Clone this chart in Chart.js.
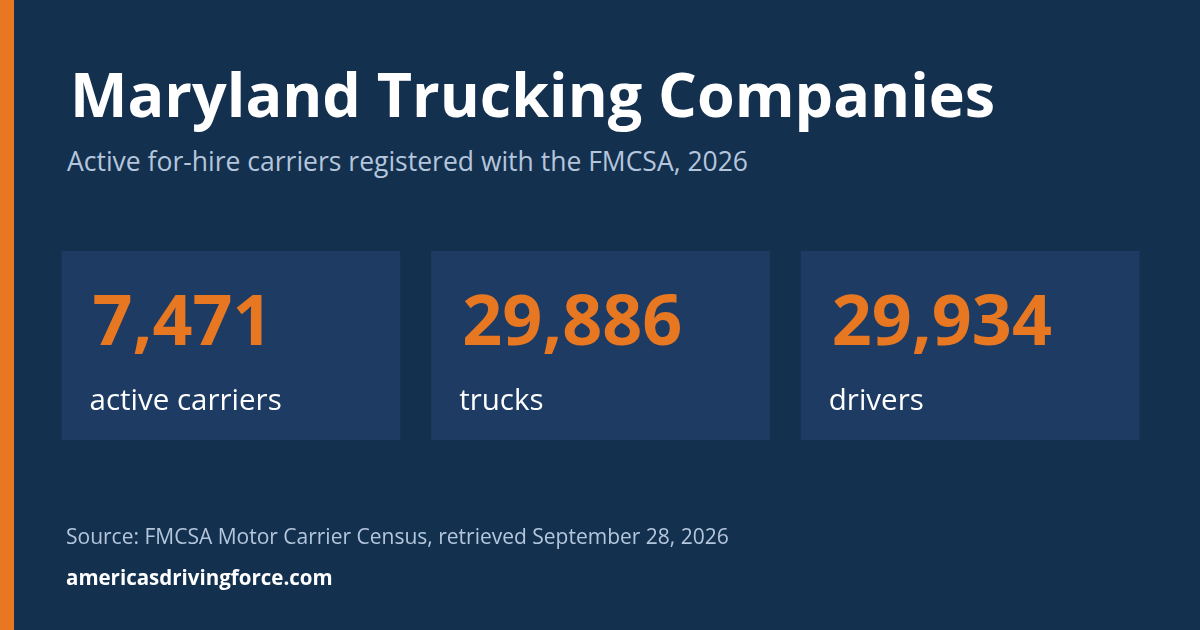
<!DOCTYPE html>
<html>
<head>
<meta charset="utf-8">
<script src="https://cdn.jsdelivr.net/npm/chart.js@4/dist/chart.umd.min.js"></script>
<style>
  html, body { margin: 0; padding: 0; }
  body { width: 1200px; height: 630px; background: #14304f; font-family: "Open Sans", "Noto Sans", sans-serif; position: relative; overflow: hidden; }
  .accent { position: absolute; left: 0; top: 0; width: 14px; height: 630px; background: #e87722; }
  h1 { position: absolute; left: 70px; top: 63px; margin: 0; font-size: 61px; font-weight: 700; color: #fff; line-height: 1; }
  .sub { position: absolute; left: 67px; top: 143px; font-size: 26.5px; color: #b4c6dc; }
  #cards { position: absolute; left: 0; top: 0; width: 1200px; height: 630px; }
  .src { position: absolute; left: 66px; top: 522px; font-size: 21px; color: #b4c6dc; }
  .url { position: absolute; left: 66px; top: 563px; font-size: 20.5px; font-weight: 700; color: #fff; }
</style>
</head>
<body>
<div class="accent"></div>
<h1>Maryland Trucking Companies</h1>
<div class="sub">Active for-hire carriers registered with the FMCSA, 2026</div>
<canvas id="cards" width="1200" height="630"></canvas>
<div class="src">Source: FMCSA Motor Carrier Census, retrieved September 28, 2026</div>
<div class="url">americasdrivingforce.com</div>
<script>
const categories = ["active carriers", "trucks", "drivers"];
const values = [7471, 29886, 29934];

// draw each stat as a full-height bar in its own category slot
const cardText = {
  id: "cardText",
  afterDatasetsDraw(chart) {
    const ctx = chart.ctx;
    chart.getDatasetMeta(0).data.forEach((bar, i) => {
      const left = bar.x - bar.width / 2;
      ctx.save();
      ctx.fillStyle = "#e87722";
      ctx.font = "700 70px 'Open Sans', 'Noto Sans', sans-serif";
      ctx.textBaseline = "alphabetic";
      ctx.fillText(values[i].toLocaleString("en-US"), left + 31, 345);
      ctx.fillStyle = "#ffffff";
      ctx.font = "400 29.5px 'Open Sans', 'Noto Sans', sans-serif";
      ctx.fillText(categories[i], left + 28, 410);
      ctx.restore();
    });
  }
};

new Chart(document.getElementById("cards"), {
  type: "bar",
  data: {
    labels: categories,
    datasets: [{
      data: values.map(() => 1),
      backgroundColor: "#1e3c63",
      borderWidth: 0,
      categoryPercentage: 1,
      barPercentage: 339 / 370
    }]
  },
  options: {
    responsive: false,
    animation: false,
    layout: { padding: { left: 46, right: 45, top: 251, bottom: 190 } },
    plugins: { legend: { display: false }, tooltip: { enabled: false } },
    scales: {
      x: { display: false },
      y: { display: false, min: 0, max: 1 }
    }
  },
  plugins: [cardText]
});
</script>
</body>
</html>
